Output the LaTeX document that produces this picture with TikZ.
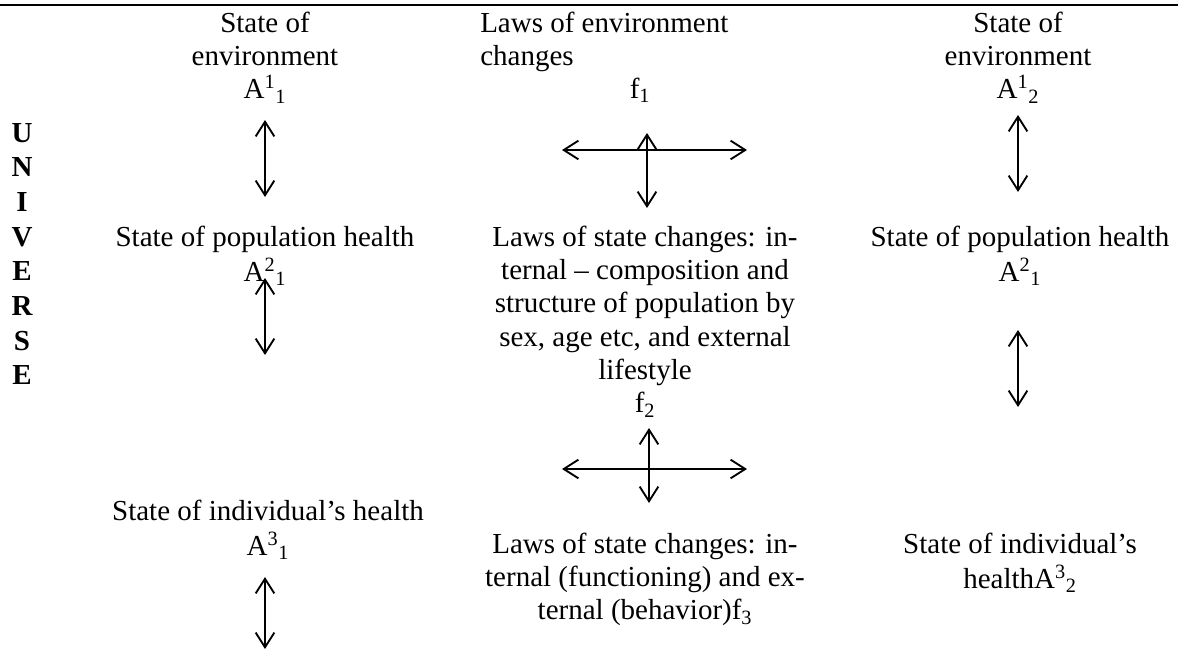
\documentclass[tikz,border=0pt]{standalone}
\usepackage{fontspec}
\setmainfont{Liberation Serif}
\usetikzlibrary{arrows.meta}
\begin{document}
\begin{tikzpicture}[x=0.75pt,y=-0.75pt,
  txt/.style={inner sep=0pt, anchor=north, align=center, font=\fontsize{21.75}{25}\selectfont},
  txtl/.style={txt, align=left, anchor=north west},
  lbl/.style={inner sep=0pt, anchor=base, font=\fontsize{21.75}{25}\selectfont},
  dbl/.style={{Straight Barb[length=11pt,width=14pt]}-{Straight Barb[length=11pt,width=14pt]}, line width=1.4pt},
  rulestyle/.style={line width=1.6pt}
]
\useasboundingbox (0,0) rectangle (1178,650);
% top rule
\coordinate (r1) at (0,5);
\coordinate (r2) at (1178,5);
\draw[rulestyle] (r1) -- (r2);

% UNIVERSE
\node[txt, font=\fontsize{21.75}{26}\selectfont\bfseries] (uni) at (22,117.7)
  {\strut U\\N\\I\\V\\E\\R\\S\\E};

% left column
\node[txt] (envL) at (265,8.7) {\strut State of\\environment\\A\textsuperscript{1}\textsubscript{1}};
\node[txt] (popL) at (265,222.7) {\strut State of population health\\A\textsuperscript{2}\textsubscript{1}};
\node[txt] (indL) at (268,496.7) {\strut State of individual’s health\\A\textsuperscript{3}\textsubscript{1}};

% middle column
\node[txtl] (lawEnv) at (480,8.7) {\strut Laws of environment\\changes};
\node[lbl] (f1) at (640,98) {f\textsubscript{1}};
\node[txt] (lawPop) at (645,222.7) {\strut Laws of state changes: in-\\ternal – composition and\\structure of population by\\sex, age etc, and external\\lifestyle\\f\textsubscript{2}};
\node[txt] (lawInd) at (645,529.7) {\strut Laws of state changes: in-\\ternal (functioning) and ex-\\ternal (behavior)f\textsubscript{3}};

% right column
\node[txt] (envR) at (1018,8.7) {\strut State of\\environment\\A\textsuperscript{1}\textsubscript{2}};
\node[txt] (popR) at (1020,222.7) {\strut State of population health\\A\textsuperscript{2}\textsubscript{1}};
\node[txt] (indR) at (1020,529.7) {\strut State of individual’s\\healthA\textsuperscript{3}\textsubscript{2}};

% arrow end points
\coordinate (aL1t) at (265,120);  \coordinate (aL1b) at (265,197);
\coordinate (aL2t) at (265,278);  \coordinate (aL2b) at (265,355);
\coordinate (aL3t) at (265,577);  \coordinate (aL3b) at (265,649);
\coordinate (c1l) at (562,150);   \coordinate (c1r) at (747,150);
\coordinate (c1t) at (647,133);   \coordinate (c1b) at (647,208);
\coordinate (c2l) at (562,469);   \coordinate (c2r) at (747,469);
\coordinate (c2t) at (649,428);   \coordinate (c2b) at (649,503);
\coordinate (aR1t) at (1018,115); \coordinate (aR1b) at (1018,192);
\coordinate (aR2t) at (1018,330); \coordinate (aR2b) at (1018,407);

\draw[dbl] (aL1t) -- (aL1b);
\draw[dbl] (aL2t) -- (aL2b);
\draw[dbl] (aL3t) -- (aL3b);
\draw[dbl] (c1l) -- (c1r);
\draw[dbl] (c1t) -- (c1b);
\draw[dbl] (c2l) -- (c2r);
\draw[dbl] (c2t) -- (c2b);
\draw[dbl] (aR1t) -- (aR1b);
\draw[dbl] (aR2t) -- (aR2b);
\end{tikzpicture}
\end{document}
